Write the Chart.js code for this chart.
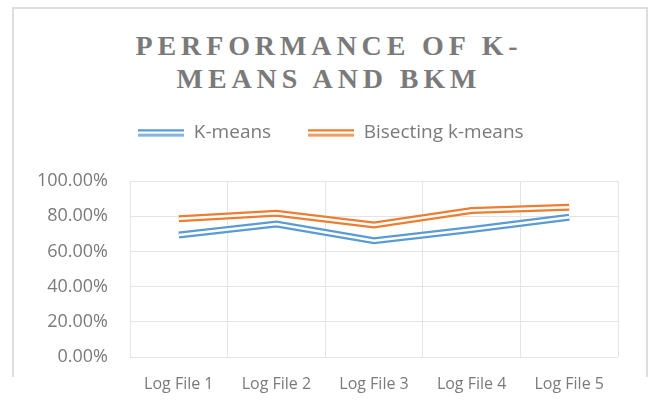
<!DOCTYPE html>
<html>
<head>
<meta charset="utf-8">
<script src="https://cdn.jsdelivr.net/npm/chart.js@4.4.0/dist/chart.umd.min.js"></script>
<style>
  body { margin: 0; background: #fff; }
  #wrap { position: relative; width: 650px; height: 410px; }
  #frame { position: absolute; left: 12px; top: 7px; width: 632px; height: 368px;
           border: 2px solid #dedede; border-bottom: none; }
  #title { position: absolute; left: 4px; top: 29px; width: 650px; text-align: center;
           font-family: "Liberation Serif", serif; font-weight: bold; font-size: 28px;
           line-height: 33px; letter-spacing: 4.9px; color: #7a7a7a; }
  canvas { position: absolute; left: 0; top: 0; }
</style>
</head>
<body>
<div id="wrap">
  <div id="frame"></div>
  <div id="title">PERFORMANCE OF K-<br>MEANS AND BKM</div>
  <canvas id="chart" width="650" height="410"></canvas>
</div>
<script>
// Chart data
const categories = ['Log File 1', 'Log File 2', 'Log File 3', 'Log File 4', 'Log File 5'];
const kMeans = [0.693, 0.756, 0.661, 0.724, 0.794];
const bisectingKMeans = [0.786, 0.817, 0.750, 0.832, 0.851];
const yTicks = [0, 0.2, 0.4, 0.6, 0.8, 1.0];

const BLUE = '#5B9BD5';
const ORANGE = '#ED7D31';
const GREY = '#7a7a7a';

// Double line legend icon
function doubleLineIcon(color) {
  const c = document.createElement('canvas');
  c.width = 46;
  c.height = 8;
  const g = c.getContext('2d');
  g.fillStyle = color;
  g.fillRect(0, 0.5, 46, 7);
  g.fillStyle = '#fff';
  g.fillRect(0, 3, 46, 2.5);
  return c;
}

// Outer coloured stroke plus a thin white stroke on top gives the Excel "double" line
function series(label, data, color) {
  return [
    { label: label, data: data, borderColor: color, borderWidth: 7, pointRadius: 0,
      pointStyle: doubleLineIcon(color), tension: 0, order: 2 },
    { label: '', data: data, borderColor: '#fff', borderWidth: 2.5, pointRadius: 0,
      tension: 0, order: 1 }
  ];
}

// Space between legend and plot, legend nudged right to sit like the original
const legendSpacer = {
  id: 'legendSpacer',
  beforeInit(chart) {
    const fit = chart.legend.fit;
    chart.legend.fit = function () {
      fit.call(this);
      this.height = 95;
    };
  },
  afterLayout(chart) {
    chart.legend.left += 14;
  }
};

new Chart(document.getElementById('chart'), {
  type: 'line',
  data: {
    labels: categories,
    datasets: [
      ...series('K-means', kMeans, BLUE),
      ...series('Bisecting k-means', bisectingKMeans, ORANGE)
    ]
  },
  options: {
    responsive: false,
    animation: false,
    layout: { padding: { top: 86, left: 30, right: 32, bottom: 0 } },
    plugins: {
      title: { display: false },
      tooltip: { enabled: false },
      legend: {
        position: 'top',
        labels: {
          usePointStyle: true,
          pointStyleWidth: 46,
          padding: 37,
          color: GREY,
          font: { family: 'Open Sans', size: 19 },
          filter: (item) => item.text !== ''
        }
      }
    },
    scales: {
      x: {
        offset: true,
        grid: { offset: true, color: '#e4e4e4', drawTicks: false },
        border: { display: false },
        ticks: { color: GREY, font: { family: 'Open Sans', size: 16 }, padding: 18, maxRotation: 0 },
        afterFit: (s) => { s.height = 53; }
      },
      y: {
        min: 0,
        max: 1,
        grid: { color: '#e4e4e4', drawTicks: false },
        border: { display: false },
        ticks: {
          color: GREY,
          font: { family: 'Open Sans', size: 18 },
          padding: 22,
          callback: (v) => (v * 100).toFixed(2) + '%'
        },
        afterBuildTicks: (s) => { s.ticks = yTicks.map(v => ({ value: v })); },
        afterFit: (s) => { s.width = 100; }
      }
    }
  },
  plugins: [legendSpacer]
});
</script>
</body>
</html>
